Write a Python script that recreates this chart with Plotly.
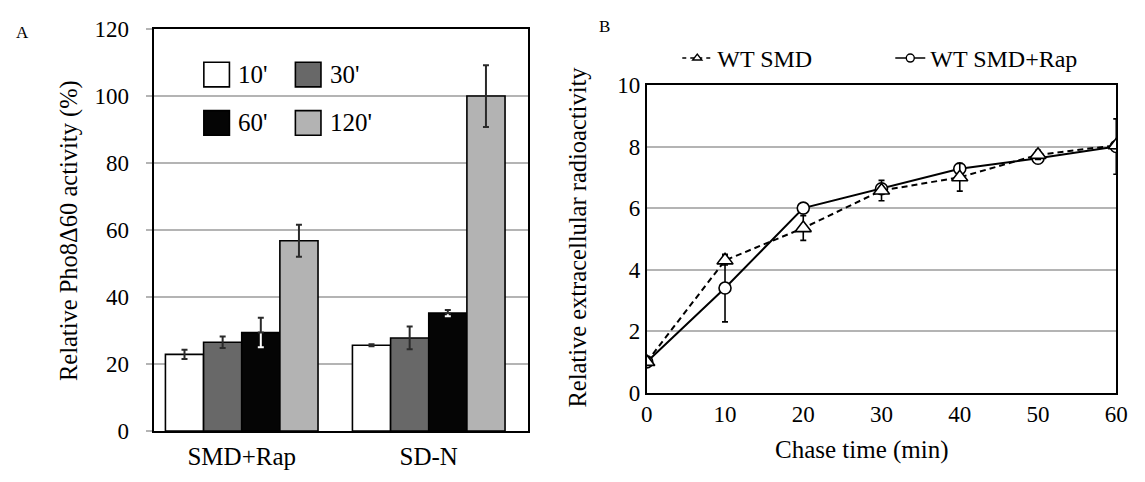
import plotly.graph_objects as go

W, H = 1145, 482
FONT = "'Liberation Serif', 'Times New Roman', Times, serif"

# ---- Panel A: Pho8Δ60 activity ----
conditions = ["SMD+Rap", "SD-N"]
chase_labels = ["10'", "30'", "60'", "120'"]
act_10 = [22.9, 25.6]
act_30 = [26.5, 27.8]
act_60 = [29.4, 35.2]
act_120 = [56.8, 100.0]
err_10 = [1.4, 0.3]
err_30 = [1.7, 3.4]
err_60 = [4.4, 0.95]
err_120 = [4.8, 9.2]

# ---- Panel B: extracellular radioactivity ----
chase_min = [0, 10, 20, 30, 40, 50, 60]
wt_smd = [1.0, 4.3, 5.35, 6.57, 7.0, 7.73, 8.04]
wt_smd_err = [0.05, 0.15, 0.4, 0.33, 0.45, 0.15, 0.1]
wt_rap = [1.0, 3.4, 6.0, 6.63, 7.28, 7.62, 8.0]
wt_rap_err = [0.05, 1.1, 0.1, 0.1, 0.16, 0.1, 0.9]

bar_fill = ["#ffffff", "#686868", "#050505", "#b3b3b3"]
grid = "#b4b4b4"
err_dark = "#2a2a2a"


def fx(p):
    return p / W


def fy(p):
    return 1 - p / H


fig = go.Figure()

bar_common = dict(xaxis="x", yaxis="y", showlegend=False,
                  marker_line=dict(color="black", width=1.6))

fig.add_trace(go.Bar(x=conditions, y=act_10, name=chase_labels[0], offsetgroup="g10",
                     marker_color=bar_fill[0],
                     error_y=dict(type="data", array=err_10, color=err_dark,
                                  thickness=2, width=3), **bar_common))
fig.add_trace(go.Bar(x=conditions, y=act_30, name=chase_labels[1], offsetgroup="g30",
                     marker_color=bar_fill[1],
                     error_y=dict(type="data", array=err_30, color=err_dark,
                                  thickness=2, width=3), **bar_common))
# black bars: error bar is white inside the bar, dark above it
fig.add_trace(go.Bar(x=conditions, y=act_60, name=chase_labels[2], offsetgroup="g60",
                     marker_color=bar_fill[2],
                     error_y=dict(type="data", array=err_60, color="white",
                                  thickness=2, width=3), **bar_common))
fig.add_trace(go.Bar(x=conditions, y=act_60, name=chase_labels[2] + " upper",
                     offsetgroup="g60", marker=dict(color="rgba(0,0,0,0)",
                                                    line=dict(width=0)),
                     error_y=dict(type="data", symmetric=False, array=err_60,
                                  arrayminus=[0] * len(err_60), color=err_dark,
                                  thickness=2, width=3),
                     xaxis="x", yaxis="y", showlegend=False, hoverinfo="skip"))
fig.add_trace(go.Bar(x=conditions, y=act_120, name=chase_labels[3], offsetgroup="g120",
                     marker_color=bar_fill[3],
                     error_y=dict(type="data", array=err_120, color=err_dark,
                                  thickness=2, width=3), **bar_common))

# ---- Panel B lines ----
fig.add_trace(go.Scatter(x=chase_min, y=wt_rap, mode="lines+markers", name="WT SMD+Rap",
                         xaxis="x2", yaxis="y2", showlegend=False,
                         line=dict(color="black", width=2),
                         marker=dict(symbol="circle", size=12, color="white",
                                     line=dict(color="black", width=1.6)),
                         error_y=dict(type="data", array=wt_rap_err, color="black",
                                      thickness=1.6, width=3)))
fig.add_trace(go.Scatter(x=chase_min, y=wt_smd, mode="lines+markers", name="WT SMD",
                         xaxis="x2", yaxis="y2", showlegend=False,
                         line=dict(color="black", width=2, dash="6px,4px"),
                         marker=dict(symbol="triangle-up", size=14, color="white",
                                     line=dict(color="black", width=1.6)),
                         error_y=dict(type="data", array=wt_smd_err, color="black",
                                      thickness=1.6, width=3)))

# legend entries for panel B (smaller symbols than the plotted markers)
fig.add_trace(go.Scatter(x=[None], y=[None], mode="lines+markers", name="WT SMD",
                         xaxis="x2", yaxis="y2",
                         line=dict(color="black", width=1.6, dash="4px,4px"),
                         marker=dict(symbol="triangle-up", size=8, color="white",
                                     line=dict(color="black", width=1.4))))
fig.add_trace(go.Scatter(x=[None], y=[None], mode="lines+markers", name="WT SMD+Rap",
                         xaxis="x2", yaxis="y2",
                         line=dict(color="black", width=1.6),
                         marker=dict(symbol="circle", size=8, color="white",
                                     line=dict(color="black", width=1.4))))

axis_line = dict(showline=True, mirror=True, linecolor="black", linewidth=2,
                 zeroline=False)

fig.update_layout(
    width=W, height=H,
    margin=dict(l=0, r=0, t=0, b=0),
    paper_bgcolor="white", plot_bgcolor="white",
    font=dict(family=FONT, color="black", size=23),
    barmode="group", bargap=0.184, bargroupgap=0,
    xaxis=dict(domain=[fx(150), fx(530)], type="category", range=[-0.471, 1.529],
               showgrid=False, ticks="", ticklabelstandoff=2,
               tickfont=dict(size=25, family=FONT), anchor="y", **axis_line),
    yaxis=dict(domain=[fy(442), fy(18)], range=[0, 120], dtick=20,
               showgrid=True, gridcolor=grid, gridwidth=2,
               ticks="outside", ticklen=6, tickwidth=2, tickcolor=grid,
               ticklabelstandoff=12, tickfont=dict(size=23, family=FONT),
               anchor="x", **axis_line),
    xaxis2=dict(domain=[fx(651), fx(1128)], range=[0, 60], dtick=10,
                showgrid=False, ticks="", tickfont=dict(size=23, family=FONT),
                anchor="y2", **axis_line),
    yaxis2=dict(domain=[fy(401.5), fy(77)], range=[0, 10], dtick=2,
                showgrid=True, gridcolor=grid, gridwidth=2, ticks="",
                tickfont=dict(size=23, family=FONT), anchor="x2", **axis_line),
    legend=dict(orientation="h", x=fx(682), y=fy(49), xanchor="left", yanchor="middle",
                font=dict(size=24, family=FONT), bgcolor="rgba(0,0,0,0)",
                entrywidth=168, entrywidthmode="pixels", itemsizing="trace"),
    hovermode=False,
)

# panel A legend: 2 x 2 swatches with labels
swatches = [(201, 53, 0), (294, 53, 1), (201, 104, 2), (294, 104, 3)]
for sx, sy, k in swatches:
    fig.add_shape(type="rect", xref="paper", yref="paper",
                  x0=fx(sx), x1=fx(sx + 26), y0=fy(sy + 26), y1=fy(sy),
                  fillcolor=bar_fill[k], line=dict(color="black", width=1.6))
    fig.add_annotation(text=chase_labels[k], xref="paper", yref="paper",
                       x=fx(sx + 33), y=fy(sy + 13), xanchor="left", yanchor="middle",
                       showarrow=False, font=dict(size=25, family=FONT))

# axis titles and panel letters
fig.add_annotation(text="Relative Pho8Δ60 activity (%)", xref="paper", yref="paper",
                   x=fx(64), y=fy(230), textangle=-90, showarrow=False,
                   xanchor="center", yanchor="middle", font=dict(size=24.5, family=FONT))
fig.add_annotation(text="Relative extracellular radioactivity", xref="paper", yref="paper",
                   x=fx(581), y=fy(237), textangle=-90, showarrow=False,
                   xanchor="center", yanchor="middle", font=dict(size=24.5, family=FONT))
fig.add_annotation(text="Chase time (min)", xref="paper", yref="paper",
                   x=fx(870), y=fy(462), showarrow=False,
                   xanchor="center", yanchor="middle", font=dict(size=25, family=FONT))
fig.add_annotation(text="A", xref="paper", yref="paper", x=fx(17), y=fy(22),
                   showarrow=False, xanchor="center", yanchor="middle",
                   font=dict(size=17, family=FONT))
fig.add_annotation(text="B", xref="paper", yref="paper", x=fx(608), y=fy(15),
                   showarrow=False, xanchor="center", yanchor="middle",
                   font=dict(size=17, family=FONT))

fig.write_html("out.html")
